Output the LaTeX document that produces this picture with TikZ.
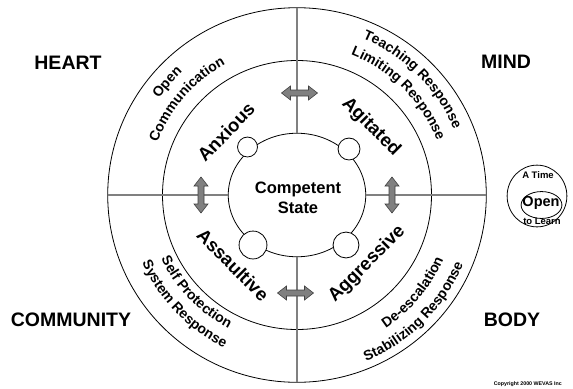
\documentclass[tikz,border=0pt]{standalone}
\usepackage{fontspec}
\setmainfont{Liberation Sans}
\usetikzlibrary{shapes.geometric,decorations.text}
\newcommand\ringfont{\fontsize{14bp}{17bp}\selectfont\bfseries}
\definecolor{crossgray}{RGB}{128,128,128}
\definecolor{arrowfill}{RGB}{128,128,128}
\definecolor{arrowedge}{RGB}{64,64,64}
\tikzset{
  dblarrow/.pic={\filldraw[fill=arrowfill, draw=arrowedge, line width=0.6bp]
    (-18,0) -- (-9,7) -- (-9,3) -- (9,3) -- (9,7) -- (18,0) -- (9,-7) -- (9,-3) -- (-9,-3) -- (-9,-7) -- cycle;}
}
\begin{document}
\begin{tikzpicture}[x=1bp,y=1bp,
  circ/.style={draw, line width=0.8bp, inner sep=0pt, outer sep=0pt},
  crossline/.style={draw=crossgray, line width=1.2bp},
  corner/.style={font=\fontsize{19.5bp}{22bp}\selectfont\bfseries, inner sep=0pt},
  state/.style={font=\fontsize{18.5bp}{22bp}\selectfont\bfseries, inner sep=0pt},
  ringtext/.style={decorate, decoration={text along path, text align=center, text={#1}}},
  dot/.style={circ, circle, fill=white},
]
\useasboundingbox (-297,-193) rectangle (276,195);

% rings
\node[circ, ellipse, minimum width=380, minimum height=376] (outer) at (0,0) {};
\node[circ, circle, minimum size=270] (middle) at (0,0) {};
\node[circ, ellipse, minimum width=138, minimum height=124] (inner) at (0,0) {};

% cross lines
\draw[crossline] (outer.north) -- (inner.north);
\draw[crossline] (outer.south) -- (inner.south);
\draw[crossline] (outer.west) -- (inner.west);
\draw[crossline] (outer.east) -- (inner.east);

% small circles on the inner ring
\node[dot, minimum size=20] (dtl) at (-49.5,48) {};
\node[dot, minimum size=22] (dtr) at (52,46) {};
\node[dot, minimum size=28] (dbl) at (-44,-50) {};
\node[dot, minimum size=26] (dbr) at (49,-50) {};

% centre text
\node[font=\fontsize{16.5bp}{20bp}\selectfont\bfseries, align=center, inner sep=0pt] (comp) at (1,-3) {Competent\\State};

% state labels
\node[state, rotate=46] (anx) at (-71,63) {Anxious};
\node[state, rotate=-45] (agi) at (74,68) {Agitated};
\node[state, rotate=-45] (ass) at (-64,-70) {Assaultive};
\node[state, rotate=45] (agg) at (70,-69) {Aggressive};

% arrows
\pic at (2.5,102) {dblarrow};
\pic at (-1.5,-98) {dblarrow};
\pic[rotate=90] at (-96,0) {dblarrow};
\pic[rotate=90] at (95,0) {dblarrow};

% ring texts
\path[ringtext={|\ringfont|Open}] (179:168) arc[start angle=179, end angle=99, radius=168];
\path[ringtext={|\ringfont|Communication}] (179:149) arc[start angle=179, end angle=99, radius=149];
\path[ringtext={|\ringfont|Teaching Response}] (85:170) arc[start angle=85, end angle=5, radius=170];
\path[ringtext={|\ringfont|Limiting Response}] (85:150) arc[start angle=85, end angle=5, radius=150];
\path[ringtext={|\ringfont|Self Protection}] (184:150) arc[start angle=184, end angle=264, radius=150];
\path[ringtext={|\ringfont|System Response}] (184:169) arc[start angle=184, end angle=264, radius=169];
\path[ringtext={|\ringfont|De-escalation}] (-80:160) arc[start angle=-80, end angle=0, radius=160];
\path[ringtext={|\ringfont|Stabilizing Response}] (-85:180) arc[start angle=-85, end angle=-5, radius=180];

% corner labels
\node[corner] (heart) at (-229,132) {HEART};
\node[corner] (mind) at (209,133) {MIND};
\node[corner] (comm) at (-226,-125) {COMMUNITY};
\node[corner] (body) at (215,-125) {BODY};

% open to learn
\node[circ, ellipse, minimum width=60, minimum height=62] (opencirc) at (240,-1) {};
\node[circ, ellipse, minimum width=41, minimum height=27] (openin) at (244.5,-10) {};
\node[font=\fontsize{9.5bp}{11bp}\selectfont\bfseries, inner sep=0pt] (atime) at (241,20) {A Time};
\node[font=\fontsize{14.5bp}{17bp}\selectfont\bfseries, inner sep=0pt] (open) at (244,-8) {Open};
\node[font=\fontsize{9.5bp}{11bp}\selectfont\bfseries, inner sep=0pt] (tolearn) at (245,-26) {to Learn};

% copyright
\node[font=\fontsize{5.3bp}{6bp}\selectfont\bfseries, anchor=east, inner sep=0pt] (copy) at (265,-189) {Copyright 2000 WEVAS Inc};
\end{tikzpicture}
\end{document}
